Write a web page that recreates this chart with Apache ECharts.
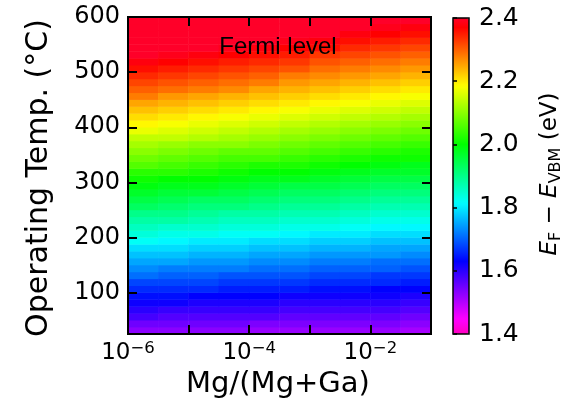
<!DOCTYPE html>
<html>
<head>
<meta charset="utf-8">
<script src="https://cdn.jsdelivr.net/npm/echarts@6/dist/echarts.min.js"></script>
<style>html,body{margin:0;padding:0;background:#fff;}#c{width:561px;height:408px;}</style>
</head>
<body>
<div id="c"></div>
<script>
// ---- data ----
// x bins: log10(Mg/(Mg+Ga)) bin centres (half-decade bins, 1e-6 .. 1e-1)
const xBinCenters = ['-5.75', '-5.25', '-4.75', '-4.25', '-3.75', '-3.25', '-2.75', '-2.25', '-1.75', '-1.25'];
// temperature bin centres (°C), bottom to top
const tempCenters = [31.25, 43.75, 56.25, 68.75, 81.25, 93.75, 106.25, 118.75, 131.25, 143.75,
  156.25, 168.75, 181.25, 193.75, 206.25, 218.75, 231.25, 243.75, 256.25, 268.75,
  281.25, 293.75, 306.25, 318.75, 331.25, 343.75, 356.25, 368.75, 381.25, 393.75,
  406.25, 418.75, 431.25, 443.75, 456.25, 468.75, 481.25, 493.75, 506.25, 518.75,
  531.25, 543.75, 556.25, 568.75, 581.25, 593.75];
// E_F - E_VBM (eV), one array per x bin, bottom to top
const ef0 = [1.53,1.55,1.58,1.60,1.62,1.64,1.66,1.68,1.71,1.73,1.75,1.77,1.79,1.82,1.84,1.86,1.88,1.90,1.93,1.95,1.97,1.99,2.01,2.03,2.06,2.08,2.10,2.12,2.14,2.17,2.19,2.21,2.23,2.25,2.28,2.30,2.32,2.34,2.36,2.38,2.41,2.43,2.45,2.47,2.49,2.52];
const ef1 = [1.53,1.55,1.57,1.59,1.62,1.64,1.66,1.68,1.70,1.72,1.75,1.77,1.79,1.81,1.83,1.85,1.88,1.90,1.92,1.94,1.96,1.98,2.00,2.03,2.05,2.07,2.09,2.11,2.14,2.16,2.18,2.20,2.22,2.24,2.26,2.29,2.31,2.33,2.35,2.37,2.39,2.42,2.44,2.46,2.48,2.50];
const ef2 = [1.53,1.55,1.57,1.59,1.61,1.63,1.66,1.68,1.70,1.72,1.74,1.76,1.78,1.80,1.83,1.85,1.87,1.89,1.91,1.93,1.96,1.98,2.00,2.02,2.04,2.06,2.08,2.10,2.13,2.15,2.17,2.19,2.21,2.23,2.25,2.28,2.30,2.32,2.34,2.36,2.38,2.40,2.43,2.45,2.47,2.49];
const ef3 = [1.53,1.55,1.57,1.59,1.61,1.63,1.65,1.67,1.69,1.72,1.74,1.76,1.78,1.80,1.82,1.84,1.86,1.88,1.91,1.93,1.95,1.97,1.99,2.01,2.03,2.05,2.07,2.10,2.12,2.14,2.16,2.18,2.20,2.22,2.24,2.27,2.29,2.31,2.33,2.35,2.37,2.39,2.41,2.43,2.46,2.48];
const ef4 = [1.52,1.54,1.57,1.59,1.61,1.63,1.65,1.67,1.69,1.71,1.73,1.75,1.77,1.79,1.82,1.84,1.86,1.88,1.90,1.92,1.94,1.96,1.98,2.00,2.02,2.05,2.07,2.09,2.11,2.13,2.15,2.17,2.19,2.21,2.23,2.25,2.28,2.30,2.32,2.34,2.36,2.38,2.40,2.42,2.44,2.46];
const ef5 = [1.52,1.54,1.56,1.58,1.60,1.62,1.65,1.67,1.69,1.71,1.73,1.75,1.77,1.79,1.81,1.83,1.85,1.87,1.89,1.91,1.93,1.95,1.98,2.00,2.02,2.04,2.06,2.08,2.10,2.12,2.14,2.16,2.18,2.20,2.22,2.24,2.26,2.28,2.31,2.33,2.35,2.37,2.39,2.41,2.43,2.45];
const ef6 = [1.52,1.54,1.56,1.58,1.60,1.62,1.64,1.66,1.68,1.70,1.72,1.74,1.76,1.78,1.80,1.83,1.85,1.87,1.89,1.91,1.93,1.95,1.97,1.99,2.01,2.03,2.05,2.07,2.09,2.11,2.13,2.15,2.17,2.19,2.21,2.23,2.25,2.27,2.29,2.31,2.33,2.36,2.38,2.40,2.42,2.44];
const ef7 = [1.52,1.54,1.56,1.58,1.60,1.62,1.64,1.66,1.68,1.70,1.72,1.74,1.76,1.78,1.80,1.82,1.84,1.86,1.88,1.90,1.92,1.94,1.96,1.98,2.00,2.02,2.04,2.06,2.08,2.10,2.12,2.14,2.16,2.18,2.20,2.22,2.24,2.26,2.28,2.30,2.32,2.34,2.36,2.38,2.40,2.42];
const ef8 = [1.52,1.54,1.56,1.58,1.60,1.62,1.63,1.66,1.67,1.70,1.71,1.74,1.75,1.77,1.79,1.81,1.83,1.85,1.87,1.89,1.91,1.93,1.95,1.97,1.99,2.01,2.03,2.05,2.07,2.09,2.11,2.13,2.15,2.17,2.19,2.21,2.23,2.25,2.27,2.29,2.31,2.33,2.35,2.37,2.39,2.41];
const ef9 = [1.51,1.53,1.55,1.57,1.59,1.61,1.63,1.65,1.67,1.69,1.71,1.73,1.75,1.77,1.79,1.81,1.83,1.85,1.87,1.89,1.91,1.93,1.95,1.97,1.98,2.01,2.02,2.04,2.06,2.08,2.10,2.12,2.14,2.16,2.18,2.20,2.22,2.24,2.26,2.28,2.30,2.32,2.34,2.36,2.38,2.40];
const efColumns = [ef0, ef1, ef2, ef3, ef4, ef5, ef6, ef7, ef8, ef9];
// axis ticks
const xRange = [1e-6, 1e-1];
const xLabelExps = [-6, -4, -2];
const yRange = [25, 600];
const yTicks = [100, 200, 300, 400, 500, 600];
const cbRange = [1.4, 2.4];
const cbInterval = 0.2;

// ---- colormap (gist_rainbow reversed) ----
const gistStops = [[0,[1,0,0.16]],[0.03,[1,0,0]],[0.215,[1,1,0]],[0.4,[0,1,0]],[0.586,[0,1,1]],[0.77,[0,0,1]],[0.954,[1,0,1]],[1,[1,0,0.75]]];
function gist(t){
  for (let i=1;i<gistStops.length;i++){
    const [p1,c1]=gistStops[i-1],[p2,c2]=gistStops[i];
    if (t<=p2){const f=(t-p1)/(p2-p1);const c=c1.map((v,k)=>Math.round(255*(v+(c2[k]-v)*f)));return 'rgb('+c.join(',')+')';}
  }
  return 'rgb(255,0,191)';
}
const cmap=[];for(let i=0;i<=100;i++){cmap.push(gist(1-i/100));}

const heatData=[];
efColumns.forEach((col,xi)=>col.forEach((v,yi)=>heatData.push([xi,yi,Math.max(cbRange[0],Math.min(cbRange[1],v))])));

const FONT='DejaVu Sans';
const tickStyle={color:'#000',width:2};
const chart=echarts.init(document.getElementById('c'),null,{renderer:'canvas'});
chart.setOption({
  animation:false,
  grid:[
    {left:128,top:17,width:303,height:317,show:false,outerBoundsMode:'none'},
    {left:453,top:18,width:16,height:316,show:true,borderColor:'#000',borderWidth:1.5,backgroundColor:'transparent',z:10,outerBoundsMode:'none'},
    {left:128,top:17,width:303,height:317,show:true,borderColor:'#000',borderWidth:2,backgroundColor:'transparent',z:10,outerBoundsMode:'none'}
  ],
  xAxis:[
    {gridIndex:0,type:'category',data:xBinCenters,show:false},
    {gridIndex:2,type:'log',logBase:10,min:xRange[0],max:xRange[1],position:'bottom',z:10,
      axisLine:{show:false},splitLine:{show:false},
      axisTick:{inside:true,length:9,lineStyle:tickStyle},
      axisLabel:{margin:6,color:'#000',
        formatter:function(v){const e=Math.round(Math.log10(v));return xLabelExps.indexOf(e)>=0?'{b|10}{s|\u2212'+(-e)+'}':'';},
        rich:{b:{fontSize:23,fontFamily:FONT,color:'#000',lineHeight:26},s:{fontSize:16.5,fontFamily:FONT,color:'#000',lineHeight:16,verticalAlign:'top'}}}},
    {gridIndex:2,type:'log',logBase:10,min:xRange[0],max:xRange[1],position:'top',z:10,
      axisLine:{show:false},splitLine:{show:false},axisLabel:{show:false},
      axisTick:{inside:true,length:9,lineStyle:tickStyle}},
    {gridIndex:1,type:'value',show:false}
  ],
  yAxis:[
    {gridIndex:0,type:'category',data:tempCenters,show:false},
    {gridIndex:2,type:'value',min:yRange[0],max:yRange[1],position:'left',z:10,
      axisLine:{show:false},splitLine:{show:false},
      axisTick:{inside:true,length:9,lineStyle:tickStyle,customValues:yTicks},
      axisLabel:{customValues:yTicks,fontSize:24,fontFamily:FONT,color:'#000',margin:8,padding:[5,0,0,0]}},
    {gridIndex:2,type:'value',min:yRange[0],max:yRange[1],position:'right',z:10,
      axisLine:{show:false},splitLine:{show:false},axisLabel:{show:false},
      axisTick:{inside:true,length:9,lineStyle:tickStyle,customValues:yTicks}},
    {gridIndex:1,type:'value',min:cbRange[0],max:cbRange[1],interval:cbInterval,position:'right',z:10,
      axisLine:{show:false},splitLine:{show:false},
      axisTick:{inside:false,length:4,lineStyle:{color:'#000',width:1.5}},
      axisLabel:{fontSize:25,fontFamily:FONT,color:'#000',margin:10,formatter:v=>v.toFixed(1)}}
  ],
  visualMap:{type:'continuous',min:cbRange[0],max:cbRange[1],seriesIndex:0,calculable:false,hoverLink:false,
    orient:'vertical',left:453,top:18,itemWidth:16,itemHeight:316,padding:0,inRange:{color:cmap}},
  series:[{type:'heatmap',xAxisIndex:0,yAxisIndex:0,data:heatData,itemStyle:{borderWidth:0},emphasis:{disabled:true}}],
  graphic:[
    {type:'text',x:278,y:47,z:100,style:{text:'Fermi level',fontSize:24,fontFamily:'Liberation Sans',fill:'#000',align:'center',verticalAlign:'middle'}},
    {type:'text',x:39,y:178,rotation:Math.PI/2,z:100,style:{text:'Operating Temp. (\u00B0C)',fontSize:30,fontFamily:FONT,fill:'#000',align:'center',verticalAlign:'middle'}},
    {type:'text',x:278,y:384,z:100,style:{text:'Mg/(Mg+Ga)',fontSize:29,fontFamily:FONT,fill:'#000',align:'center',verticalAlign:'middle'}},
    {type:'text',x:550,y:174,rotation:Math.PI/2,z:100,style:{
      text:'{i|E}{s|F}{n| \u2212 }{i|E}{s|VBM}{n| (eV)}',align:'center',verticalAlign:'middle',
      rich:{i:{fontSize:23,fontFamily:FONT,fontStyle:'italic',fill:'#000',lineHeight:28},
            n:{fontSize:23,fontFamily:FONT,fill:'#000',lineHeight:28},
            s:{fontSize:16,fontFamily:FONT,fill:'#000',lineHeight:16,verticalAlign:'bottom'}}}}
  ]
});
</script>
</body>
</html>
